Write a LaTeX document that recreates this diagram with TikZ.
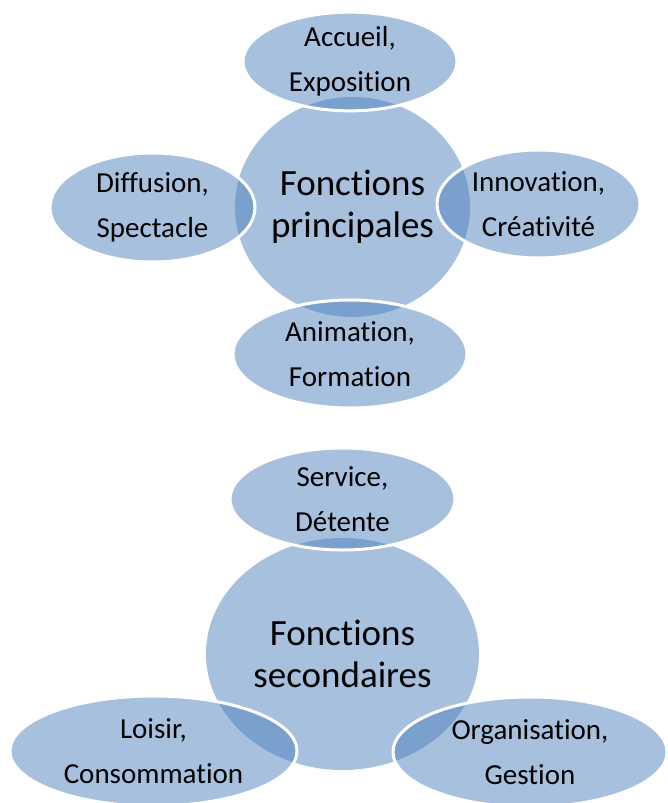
\documentclass[tikz,border=0pt]{standalone}
\usepackage{fontspec}
\setmainfont{Carlito}[Ligatures=NoCommon]
\usepackage{tikz}
\usetikzlibrary{shapes.geometric}
\definecolor{accentblue}{HTML}{4F81BD}

\begin{document}
\begin{tikzpicture}[x=0.5pt, y=-0.5pt,
    hub/.style={ellipse, inner sep=0pt, fill=accentblue, fill opacity=0.5,
      text opacity=1, align=center, font=\fontsize{18.5}{21}\selectfont},
    satellite/.style={ellipse, inner sep=0pt, fill=accentblue, fill opacity=0.5,
      text opacity=1, draw=white, line width=1.5pt, align=center,
      font=\fontsize{14.5}{22.5}\selectfont}]
      \clip (0,0) rectangle (668,803);

      % Fonctions principales
      \node[hub, minimum width=117.5pt, minimum height=110pt] (principales) at (352.5,207) {Fonctions\\principales};
      \node[satellite, minimum width=107pt, minimum height=48.5pt] (accueil) at (350,61.5) {Accueil,\\Exposition};
      \node[satellite, minimum width=101.5pt, minimum height=54pt] (innovation) at (538.5,204) {Innovation,\\Créativité};
      \node[satellite, minimum width=117pt, minimum height=54pt] (animation) at (350,354) {Animation,\\Formation};
      \node[satellite, minimum width=102.5pt, minimum height=54.5pt] (diffusion) at (152.5,207.5) {Diffusion,\\Spectacle};

      % Fonctions secondaires
      \node[hub, minimum width=136.5pt, minimum height=116pt] (secondaires) at (342.5,654) {Fonctions\\secondaires};
      \node[satellite, minimum width=112.5pt, minimum height=51pt] (service) at (342.5,499) {Service,\\Détente};
      \node[satellite, minimum width=137pt, minimum height=55pt] (organisation) at (530,752) {Organisation,\\Gestion};
      \node[satellite, minimum width=143.5pt, minimum height=55pt] (loisir) at (153.5,751) {Loisir,\\Consommation};
    \end{tikzpicture}
\end{document}
